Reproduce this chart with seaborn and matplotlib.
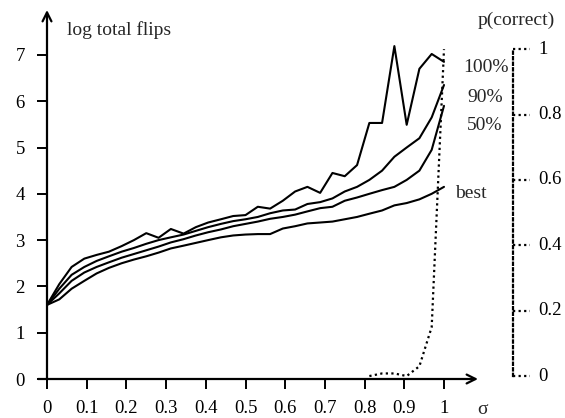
import numpy as np
import pandas as pd
import seaborn as sns
import matplotlib.pyplot as plt
from matplotlib.transforms import blended_transform_factory

# noise level sigma, sampled in steps of 1/32
sigma = [0.0, 0.031, 0.062, 0.094, 0.125, 0.156, 0.188, 0.219, 0.25, 0.281,
         0.312, 0.344, 0.375, 0.406, 0.438, 0.469, 0.5, 0.531, 0.562, 0.594,
         0.625, 0.656, 0.688, 0.719, 0.75, 0.781, 0.812, 0.844, 0.875, 0.906,
         0.938, 0.969, 1.0]

# log total flips, per percentile of runs
flips_100 = [1.6, 2.05, 2.42, 2.6, 2.68, 2.75, 2.87, 3.0, 3.15, 3.05,
             3.24, 3.14, 3.28, 3.38, 3.45, 3.52, 3.54, 3.72, 3.68, 3.85,
             4.05, 4.15, 4.02, 4.45, 4.38, 4.62, 5.53, 5.53, 7.19, 5.49,
             6.7, 7.02, 6.85]
flips_90 = [1.6, 1.95, 2.25, 2.42, 2.55, 2.65, 2.75, 2.83, 2.92, 3.0,
            3.06, 3.12, 3.2, 3.28, 3.35, 3.41, 3.45, 3.5, 3.58, 3.64,
            3.66, 3.78, 3.82, 3.9, 4.05, 4.15, 4.3, 4.5, 4.8, 5.0,
            5.2, 5.65, 6.35]
flips_50 = [1.6, 1.85, 2.12, 2.3, 2.42, 2.52, 2.62, 2.7, 2.78, 2.86,
            2.95, 3.02, 3.1, 3.17, 3.23, 3.3, 3.35, 3.4, 3.46, 3.5,
            3.55, 3.62, 3.69, 3.72, 3.85, 3.92, 4.0, 4.08, 4.15, 4.3,
            4.5, 4.95, 5.9]
flips_best = [1.6, 1.72, 1.95, 2.12, 2.28, 2.4, 2.5, 2.58, 2.65, 2.73,
              2.82, 2.88, 2.94, 3.0, 3.06, 3.1, 3.12, 3.13, 3.13, 3.25,
              3.3, 3.36, 3.38, 3.4, 3.45, 3.5, 3.57, 3.64, 3.75, 3.8,
              3.88, 4.0, 4.15]

# probability of a correct result (dotted curve, right axis)
p_sigma = [0.812, 0.844, 0.875, 0.906, 0.938, 0.969, 1.0]
p_correct = [0.0, 0.008, 0.008, 0.0, 0.03, 0.15, 1.0]

x_ticks = [0, 0.1, 0.2, 0.3, 0.4, 0.5, 0.6, 0.7, 0.8, 0.9, 1.0]
x_tick_labels = ["0", "0.1", "0.2", "0.3", "0.4", "0.5", "0.6", "0.7", "0.8", "0.9", "1"]
y_ticks = [0, 1, 2, 3, 4, 5, 6, 7]
p_ticks = [0, 0.2, 0.4, 0.6, 0.8, 1.0]
p_tick_labels = ["0", "0.2", "0.4", "0.6", "0.8", "1"]

sns.set_theme(style="white")
plt.rcParams["font.family"] = ["Liberation Serif", "DejaVu Serif"]

W, H = 565, 418


def fx(px):
    return px / W


def fy(py):
    return 1 - py / H


fig = plt.figure(figsize=(W / 100, H / 100), dpi=100)
ax = fig.add_axes([fx(47), fy(379), (478 - 47) / W, (379 - 10) / H])
ax.set_xlim(0, 431 / 397)
ax.set_ylim(0, 369 / 46.3)

# the four flip curves
for vals in [flips_100, flips_90, flips_50, flips_best]:
    sns.lineplot(x=sigma, y=vals, color="black", lw=1.5, ax=ax)

for s in ax.spines.values():
    s.set_visible(False)

arrow = dict(arrowstyle="->", lw=1.6, color="black", shrinkA=0, shrinkB=0,
             mutation_scale=16)
ax.annotate("", xy=(1, 0), xytext=(-9 / 431, 0), xycoords="axes fraction",
            arrowprops=arrow)
ax.annotate("", xy=(0, 1), xytext=(0, 0), xycoords="axes fraction",
            arrowprops=arrow)

ax.set_xticks(x_ticks)
ax.set_xticklabels(x_tick_labels)
ax.set_yticks(y_ticks)
ax.tick_params(bottom=True, left=True, direction="out", length=7, width=1.4,
               colors="black", labelsize=13.5)
ax.tick_params(axis="x", pad=8)
ax.tick_params(axis="y", pad=9)
ax.set_xlabel("")
ax.set_ylabel("")

# right-hand p(correct) axis
ax2 = ax.twinx()
ax2.set_ylim(-0.009, 1.12)
sns.lineplot(x=p_sigma, y=p_correct, color="black", lw=1.6,
             linestyle=(0, (1, 1.5)), ax=ax2)
for name, s in ax2.spines.items():
    s.set_visible(name == "right")
spine_pos = (513 - 47) / 431
ax2.spines["right"].set_position(("axes", spine_pos))
ax2.spines["right"].set_bounds(0, 1)
ax2.spines["right"].set_linestyle((0, (1, 1.5)))
ax2.spines["right"].set_linewidth(1.6)
ax2.spines["right"].set_color("black")
ax2.set_yticks(p_ticks)
ax2.set_yticklabels(p_tick_labels)
ax2.tick_params(right=True, length=0, pad=18, labelsize=13.5, colors="black")
for lbl in ax2.get_yticklabels():
    lbl.set_va("center")
trans = blended_transform_factory(ax2.transAxes, ax2.transData)
for p in p_ticks:
    ax2.plot([spine_pos, (530 - 47) / 431], [p, p], transform=trans,
             color="black", lw=1.6, linestyle=(0, (1, 1.5)), clip_on=False)
ax2.set_ylabel("")

fig.text(fx(67), fy(30), "log total flips", fontsize=14, va="center", ha="left")
fig.text(fx(478), fy(20), "p(correct)", fontsize=14, va="center", ha="left")
fig.text(fx(463), fy(68), "100%", fontsize=14, va="center", ha="left")
fig.text(fx(467), fy(98), "90%", fontsize=14, va="center", ha="left")
fig.text(fx(467), fy(126), "50%", fontsize=14, va="center", ha="left")
fig.text(fx(455), fy(193), "best", fontsize=14, va="center", ha="left")
fig.text(fx(483), fy(410), "σ", fontsize=14, va="center", ha="center")

fig.savefig("out.png", dpi=100, facecolor="white")
